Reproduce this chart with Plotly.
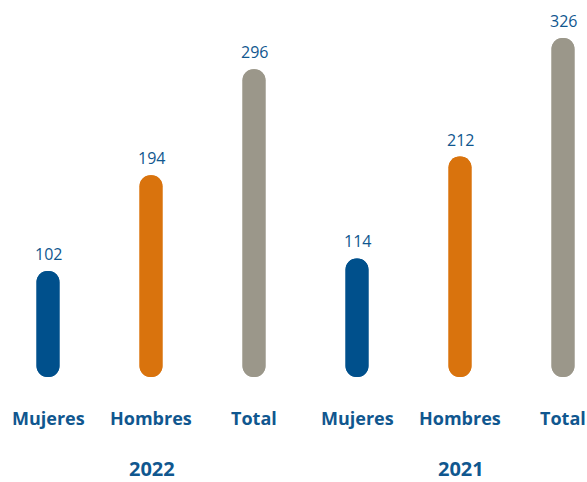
import plotly.graph_objects as go

categories = ["Mujeres", "Hombres", "Total"]
years = ["2022", "2021"]
values_2022 = [102, 194, 296]
values_2021 = [114, 212, 326]
colors = ["#00508c", "#d9730d", "#9b978a"]

TEXT = "#10578f"
FONT = "Open Sans, Noto Sans, sans-serif"

xs, vals, cols, labels = [], [], [], []
for gi, vs in enumerate([values_2022, values_2021]):
    for ci, v in enumerate(vs):
        xs.append(gi * 3 + ci)
        vals.append(v)
        cols.append(colors[ci])
        labels.append(categories[ci])

fig = go.Figure()
# full bar rounded at top
fig.add_trace(go.Bar(x=xs, y=vals, base=[0] * len(vals),
                     marker=dict(color=cols, cornerradius=11.5, line=dict(width=0)),
                     width=0.223, hoverinfo="skip", showlegend=False))
# same bar drawn downward from the top, rounded at bottom
fig.add_trace(go.Bar(x=xs, y=[-v for v in vals], base=vals,
                     marker=dict(color=cols, cornerradius=11.5, line=dict(width=0)),
                     width=0.223, hoverinfo="skip", showlegend=False))

annotations = []
for x, v, lab in zip(xs, vals, labels):
    annotations.append(dict(x=x, y=v, xref="x", yref="y", text=str(v), showarrow=False,
                            yanchor="bottom", yshift=4,
                            font=dict(family=FONT, size=16, color=TEXT)))
    annotations.append(dict(x=x, y=-41 / 377, xref="x", yref="paper", text=f"<b>{lab}</b>",
                            showarrow=False, yanchor="middle",
                            font=dict(family=FONT, size=18, color=TEXT)))
for gi, yr in enumerate(years):
    annotations.append(dict(x=gi * 3 + 1.01, y=-91 / 377, xref="x", yref="paper",
                            text=f"<b>{yr}</b>", showarrow=False, yanchor="middle",
                            font=dict(family=FONT, size=20, color=TEXT)))

fig.update_layout(
    width=587, height=482,
    margin=dict(l=0, r=0, t=0, b=105),
    paper_bgcolor="white", plot_bgcolor="white",
    barmode="overlay",
    xaxis=dict(range=[-48 / 103, (587 - 48) / 103], visible=False, fixedrange=True),
    yaxis=dict(range=[0, 377 / 1.04], visible=False, fixedrange=True),
    annotations=annotations,
)

fig.write_html("out.html", config={"displayModeBar": False},
               post_script="document.body.style.margin='0';document.body.style.overflow='hidden';")
